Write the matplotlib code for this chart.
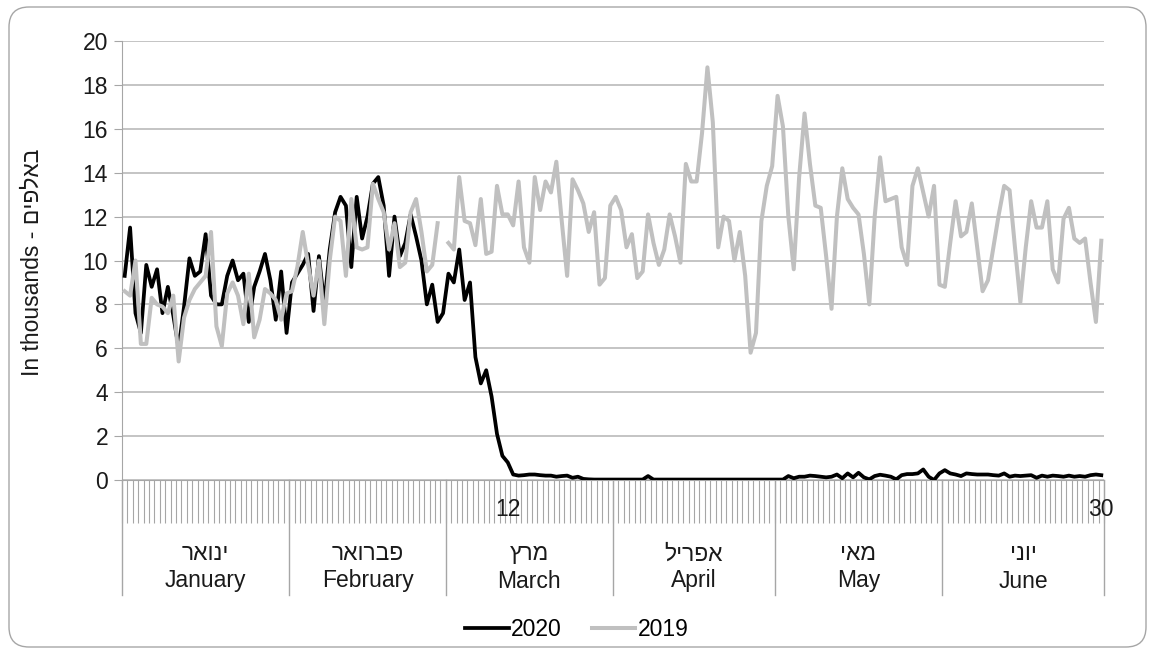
import numpy as np
import matplotlib.pyplot as plt
from matplotlib.patches import FancyBboxPatch
import matplotlib.transforms as mtransforms

plt.rcParams['font.family'] = ['Liberation Sans', 'DejaVu Sans']

# daily values, in thousands, 1 Jan - 30 Jun
jan_2020 = [9.3, 11.5, 7.6, 6.7, 9.8, 8.8, 9.6, 7.6, 8.8, 7.5, 6.0, 7.9, 10.1, 9.3, 9.5,
            11.2, 8.4, 8.0, 8.0, 9.3, 10.0, 9.1, 9.4, 7.2, 8.8, 9.5, 10.3, 9.1, 7.3, 9.5, 6.7]
feb_2020 = [9.0, 9.4, 9.8, 10.3, 7.7, 10.2, 8.0, 10.5, 12.2, 12.9, 12.5, 9.7, 12.9, 11.0, 12.0,
            13.5, 13.8, 12.5, 9.3, 12.0, 10.2, 10.8, 12.1, 11.1, 10.0, 8.0, 8.9, 7.2, 7.6]
mar_2020 = [9.4, 9.0, 10.5, 8.2, 9.0, 5.6, 4.4, 5.0, 3.8, 2.1, 1.1, 0.8, 0.25, 0.2, 0.22,
            0.25, 0.25, 0.22, 0.2, 0.2, 0.15, 0.18, 0.2, 0.1, 0.15, 0.05, 0.03, 0.02, 0.02, 0.02, 0.02]
apr_2020 = [0.02, 0.02, 0.02, 0.02, 0.02, 0.02, 0.18, 0.02, 0.02, 0.02, 0.02, 0.02, 0.02, 0.02, 0.02,
            0.02, 0.02, 0.02, 0.02, 0.02, 0.02, 0.02, 0.02, 0.02, 0.02, 0.02, 0.02, 0.02, 0.02, 0.02]
may_2020 = [0.02, 0.02, 0.18, 0.08, 0.15, 0.15, 0.2, 0.18, 0.15, 0.12, 0.15, 0.25, 0.08, 0.3, 0.12,
            0.33, 0.12, 0.03, 0.18, 0.24, 0.2, 0.15, 0.03, 0.22, 0.27, 0.27, 0.3, 0.48, 0.15, 0.0, 0.3]
jun_2020 = [0.45, 0.3, 0.25, 0.18, 0.3, 0.27, 0.25, 0.25, 0.25, 0.22, 0.2, 0.3, 0.15, 0.2, 0.18,
            0.2, 0.22, 0.1, 0.2, 0.15, 0.2, 0.18, 0.15, 0.2, 0.15, 0.18, 0.15, 0.22, 0.25, 0.22]

jan_2019 = [8.6, 8.4, 10.0, 6.2, 6.2, 8.3, 8.0, 7.9, 7.6, 8.4, 5.4, 7.4, 8.2, 8.7, 9.0,
            9.3, 11.3, 7.0, 6.1, 8.5, 9.0, 8.4, 7.1, 9.4, 6.5, 7.3, 8.7, 8.5, 8.2, 7.3, 8.5]
feb_2019 = [8.6, 9.7, 11.3, 9.8, 8.4, 10.0, 7.1, 10.0, 12.0, 11.8, 9.3, 12.8, 10.6, 10.5, 10.6,
            13.5, 12.8, 12.2, 10.5, 11.7, 9.7, 9.9, 12.2, 12.8, 11.3, 9.5, 9.8, 11.7, None]
mar_2019 = [10.8, 10.5, 13.8, 11.8, 11.7, 10.7, 12.8, 10.3, 10.4, 13.4, 12.1, 12.1, 11.6, 13.6, 10.6,
            9.9, 13.8, 12.3, 13.6, 13.1, 14.5, 11.8, 9.3, 13.7, 13.2, 12.6, 11.3, 12.2, 8.9, 9.2, 12.5]
apr_2019 = [12.9, 12.3, 10.6, 11.2, 9.2, 9.5, 12.1, 10.8, 9.8, 10.5, 12.1, 11.1, 9.9, 14.4, 13.6,
            13.6, 15.8, 18.8, 16.3, 10.6, 12.0, 11.8, 10.0, 11.3, 9.3, 5.8, 6.7, 11.8, 13.4, 14.3]
may_2019 = [17.5, 16.1, 12.0, 9.6, 13.8, 16.7, 14.4, 12.5, 12.4, 10.2, 7.8, 12.0, 14.2, 12.8, 12.4,
            12.1, 10.3, 8.0, 12.0, 14.7, 12.7, 12.8, 12.9, 10.6, 9.8, 13.4, 14.2, 13.1, 12.0, 13.4, 8.9]
jun_2019 = [8.8, 10.8, 12.7, 11.1, 11.3, 12.6, 10.6, 8.6, 9.1, 10.6, 12.1, 13.4, 13.2, 10.6, 8.1,
            10.6, 12.7, 11.5, 11.5, 12.7, 9.6, 9.0, 11.9, 12.4, 11.0, 10.8, 11.0, 9.0, 7.2, 10.9]

months_he = ["ינואר", "פברואר", "מרץ", "אפריל", "מאי", "יוני"]
months_en = ["January", "February", "March", "April", "May", "June"]
month_days = [31, 29, 31, 30, 31, 30]
day_labels = {71: "12", 181: "30"}

s2020 = np.array(jan_2020 + feb_2020 + mar_2020 + apr_2020 + may_2020 + jun_2020, dtype=float)
s2019 = np.array(jan_2019 + feb_2019 + mar_2019 + apr_2019 + may_2019 + jun_2019, dtype=float)
n = len(s2020)
x = np.arange(n)

fs = 16.5
txt = '#1a1a1a'
grey = '#BFBFBF'
fig = plt.figure(figsize=(11.54, 6.53), dpi=100)
ax = fig.add_axes([122/1154, 1-480/653, 982/1154, 439/653])

ax.plot(x, s2020, color='black', lw=2.7, zorder=3, label='2020', solid_joinstyle='round')
ax.plot(x, s2019, color='#C0C0C0', lw=2.9, zorder=4, label='2019', solid_joinstyle='round')

ax.set_xlim(-0.5, n - 0.5)
ax.set_ylim(0, 20)
ax.set_yticks(range(0, 21, 2))
ax.yaxis.grid(True, color=grey, lw=1.3)
ax.set_axisbelow(True)
for s in ['top', 'right']:
    ax.spines[s].set_visible(False)
ax.spines['left'].set_color('#A6A6A6')
ax.spines['bottom'].set_color('#A6A6A6')
ax.tick_params(axis='y', length=6, color='#A6A6A6', labelsize=fs, pad=4, labelcolor=txt)

# one tick between each day
ax.set_xticks(np.arange(-0.5, n, 1))
ax.set_xticklabels([])
ax.tick_params(axis='x', length=31, width=0.8, color='#A6A6A6')

trans = mtransforms.blended_transform_factory(ax.transData, ax.transAxes)
edges = np.concatenate([[0], np.cumsum(month_days)]) - 0.5
for e in edges:
    ax.plot([e, e], [0, -115/439], color='#A6A6A6', lw=1, transform=trans, clip_on=False)
for i in range(len(months_en)):
    mid = (edges[i] + edges[i + 1]) / 2
    ax.text(mid, -74/439, months_he[i][::-1], transform=trans, ha='center', va='center',
            fontsize=fs, color=txt)
    ax.text(mid, -101/439, months_en[i], transform=trans, ha='center', va='center',
            fontsize=fs, color=txt)
for d, lab in day_labels.items():
    ax.text(d, -29/439, lab, transform=trans, ha='center', va='center', fontsize=fs, color=txt)

fig.text(32/1154, 1-262/653, "In thousands - " + "באלפים"[::-1], rotation=90,
         ha='center', va='center', fontsize=fs, color=txt)

fig.legend(loc='center', bbox_to_anchor=(0.5, 1-630/653), ncol=2, frameon=False,
           fontsize=fs, handlelength=1.9, handletextpad=0.1, columnspacing=1.3)

fig.add_artist(FancyBboxPatch((9, 6), 1137, 640, boxstyle="round,pad=0,rounding_size=20",
                              transform=None, fill=False, edgecolor='#A6A6A6', lw=1))

fig.savefig('out.png', dpi=100)
